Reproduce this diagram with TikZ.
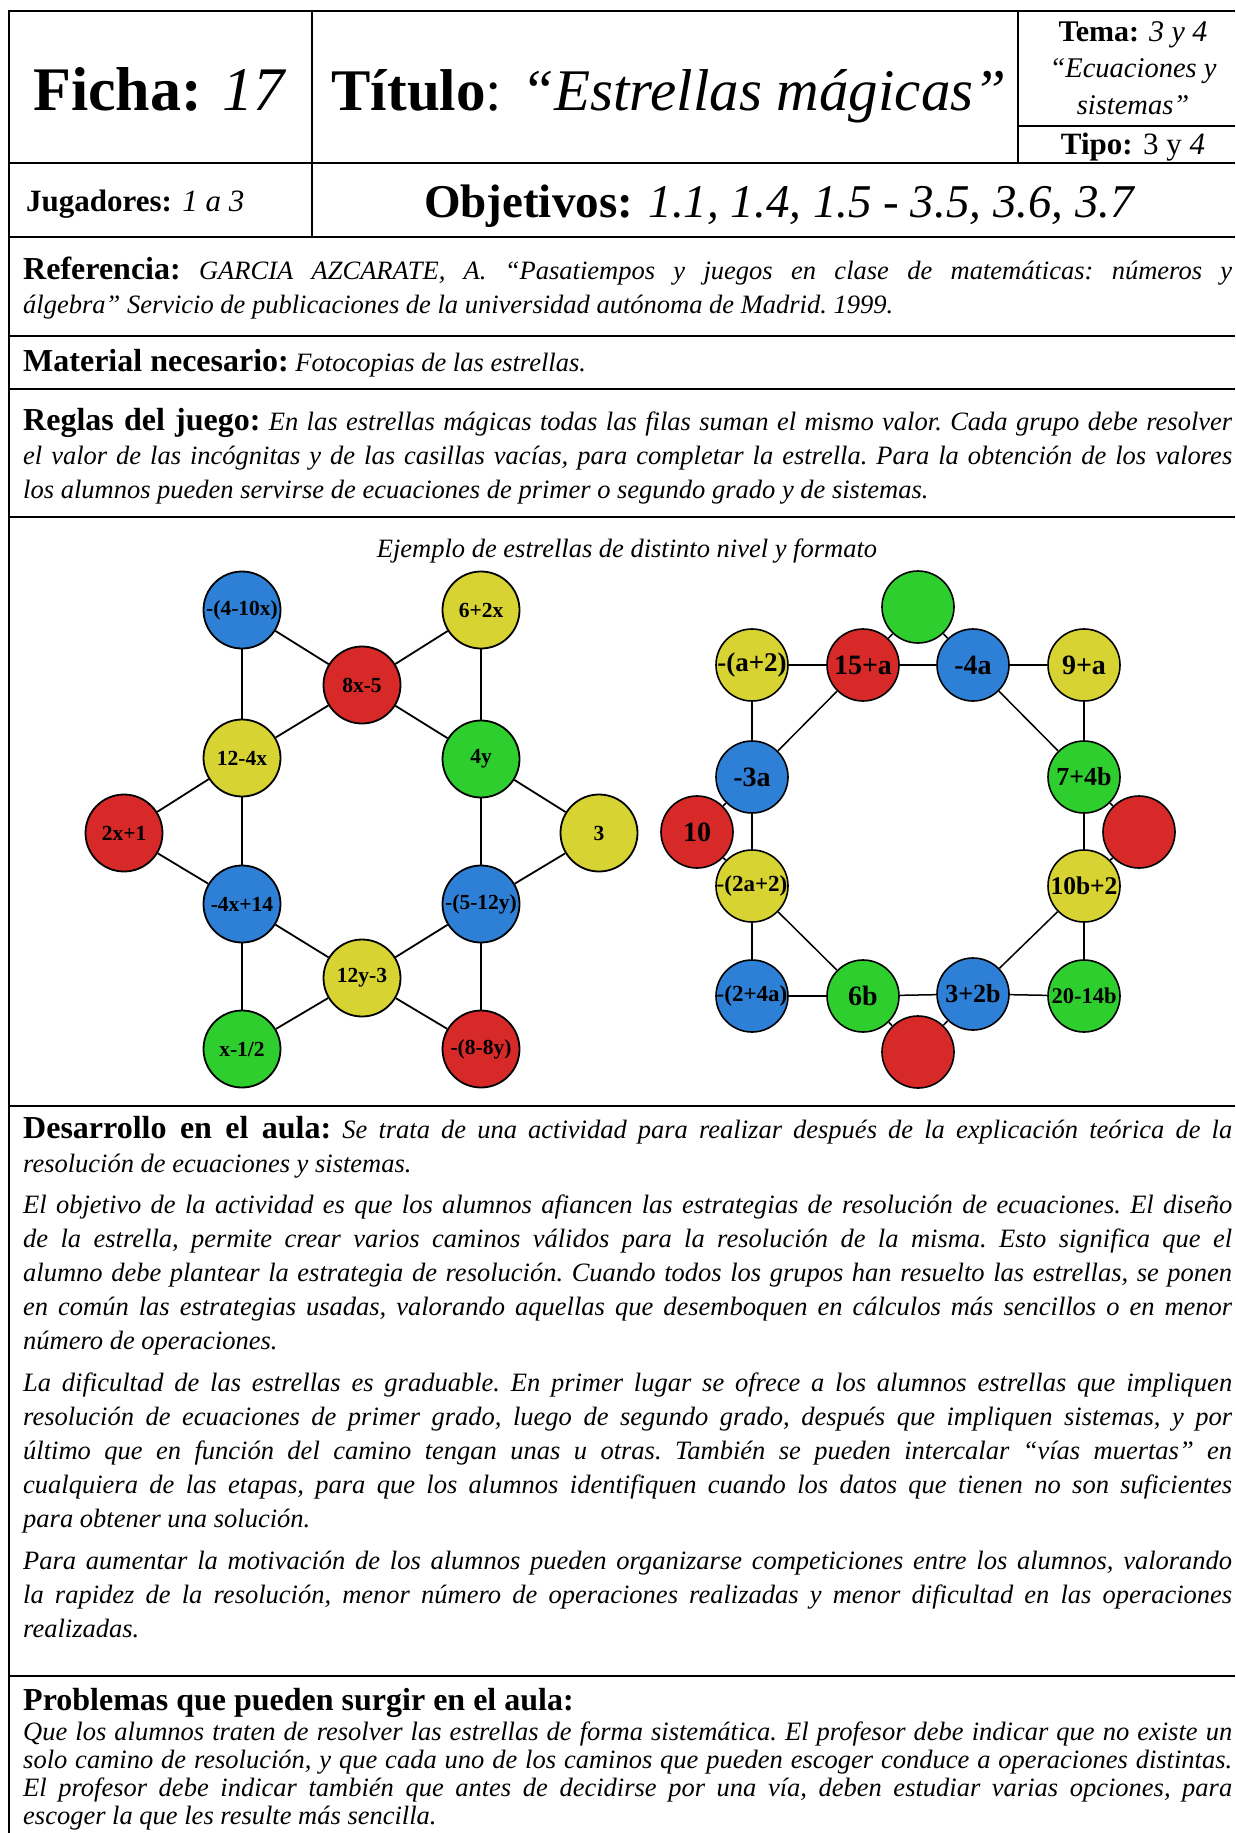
\documentclass[tikz,border=0pt]{standalone}
\usepackage{fontspec}
\setmainfont{Liberation Serif}
\definecolor{cB}{RGB}{46,128,214}
\definecolor{cR}{RGB}{216,41,41}
\definecolor{cY}{RGB}{214,211,50}
\definecolor{cG}{RGB}{46,206,46}
\newlength\TW \setlength\TW{1209pt}
\newcommand\lab[1]{{\upshape\bfseries\fontsize{32}{34}\selectfont #1}}
\newcommand\JL[3]{\node[txt] (#1) at (23,#2) {\frenchspacing\makebox[\TW][s]{#3}};}
\newcommand\LL[3]{\node[txt] (#1) at (23,#2) {\frenchspacing #3};}
\newcommand\zl[1]{\makebox[0pt]{#1}}
\begin{document}
\begin{tikzpicture}[x=1pt,y=-1pt,
  hrule/.style={line width=2.2pt},
  vrule/.style={line width=1.8pt},
  txt/.style={anchor=base west, inner sep=0pt, font=\fontsize{26.5}{30}\selectfont\itshape},
  cl/.style={circle, draw=black, line width=1.8pt, minimum size=77pt, inner sep=0pt, font=\bfseries\fontsize{21.5}{22}\selectfont},
  cr/.style={circle, draw=black, line width=1.6pt, minimum size=72pt, inner sep=0pt, font=\bfseries\fontsize{26}{26}\selectfont},
  fB/.style={fill=cB}, fR/.style={fill=cR}, fY/.style={fill=cY}, fG/.style={fill=cG},
  ledge/.style={line width=1.8pt},
  redge/.style={line width=1.5pt}]
\useasboundingbox (0,0) rectangle (1235,1833);
\fill[white] (0,0) rectangle (1235,1833);
% frame
\draw[hrule] (9,11) -- (1235,11);
\draw[hrule] (9,10) -- (9,1833);
\draw[hrule] (9,163) -- (1235,163);
\draw[hrule] (9,237) -- (1235,237);
\draw[hrule] (9,336) -- (1235,336);
\draw[hrule] (9,389) -- (1235,389);
\draw[hrule] (9,517) -- (1235,517);
\draw[hrule] (9,1106) -- (1235,1106);
\draw[hrule] (9,1676) -- (1235,1676);
\draw[vrule] (312,11) -- (312,237);
\draw[vrule] (1018,11) -- (1018,163);
\draw[vrule] (1018,126) -- (1235,126);
% header
\node[anchor=base, inner sep=0pt] (ficha) at (160,111) {\fontsize{62}{62}\selectfont\textbf{Ficha:} \textit{17}};
\node[anchor=base, inner sep=0pt] (titulo) at (669,111) {\fontsize{59}{59}\selectfont\textbf{Título}: \textit{“Estrellas mágicas”}};
\node[anchor=base, inner sep=0pt] (tema) at (1133,42) {\fontsize{30}{30}\selectfont\textbf{Tema:} \textit{3 y 4}};
\node[anchor=base, inner sep=0pt] (ecu) at (1133,78) {\fontsize{28.5}{28}\selectfont\itshape “Ecuaciones y};
\node[anchor=base, inner sep=0pt] (sis) at (1133,115) {\fontsize{28.5}{28}\selectfont\itshape sistemas”};
\node[anchor=base, inner sep=0pt] (tipo) at (1133,154) {\fontsize{31}{31}\selectfont\textbf{Tipo:} 3 y \textit{4}};
\node[anchor=base west, inner sep=0pt] (jug) at (26,211) {\fontsize{31}{31}\selectfont\textbf{Jugadores:} \textit{1 a 3}};
\node[anchor=base, inner sep=0pt] (obj) at (780,217) {\fontsize{47}{47}\selectfont\textbf{Objetivos:} \textit{1.1, 1.4, 1.5 - 3.5, 3.6, 3.7}};
% referencia
\JL{ref1}{279}{\lab{Referencia:} GARCIA AZCARATE, A. “Pasatiempos y juegos en clase de matemáticas: números y}
\LL{ref2}{313}{álgebra” Servicio de publicaciones de la universidad autónoma de Madrid. 1999.}
\LL{mat}{371}{\lab{Material necesario:} Fotocopias de las estrellas.}
\JL{reg1}{430}{\lab{Reglas del juego:} En las estrellas mágicas todas las filas suman el mismo valor. Cada grupo debe resolver}
\JL{reg2}{464}{el valor de las incógnitas y de las casillas vacías, para completar la estrella. Para la obtención de los valores}
\LL{reg3}{498}{los alumnos pueden servirse de ecuaciones de primer o segundo grado y de sistemas.}
% figure
\node[anchor=base, inner sep=0pt, font=\fontsize{26.5}{30}\selectfont\itshape] (cap) at (627,557) {Ejemplo de estrellas de distinto nivel y formato};
% left star
\node[cl,fB] (A) at (242,610) {\zl{-(4-10x)}};
\node[cl,fY] (B) at (481,610) {\zl{6+2x}};
\node[cl,fR] (C) at (362,685) {\zl{8x-5}};
\node[cl,fY] (D) at (242,758) {\zl{12-4x}};
\node[cl,fG] (E) at (481,759) {\zl{4y}};
\node[cl,fR] (F) at (124,833) {\zl{2x+1}};
\node[cl,fY] (G) at (599,833) {\zl{3}};
\node[cl,fB] (H) at (242,904) {\zl{-4x+14}};
\node[cl,fB] (I) at (481,904) {\zl{-(5-12y)}};
\node[cl,fY] (J) at (362,978) {\zl{12y-3}};
\node[cl,fG] (K) at (242,1049) {\zl{x-1/2}};
\node[cl,fR] (L) at (481,1049) {\zl{-(8-8y)}};
\foreach \a/\b in {A/C,C/B,A/D,B/E,C/D,C/E,D/F,F/H,D/H,E/G,E/I,G/I,H/J,I/J,H/K,I/L,J/K,J/L}
  \draw[ledge] (\a) -- (\b);
% right star
\node[cr,fG] (T) at (918,607) {};
\node[cr,fY,font=\bfseries\fontsize{27}{27}\selectfont] (R1) at (752,665) {\zl{-(a+2)}};
\node[cr,fR,font=\bfseries\fontsize{28}{28}\selectfont] (R2) at (863,665) {\zl{15+a}};
\node[cr,fB,font=\bfseries\fontsize{28}{28}\selectfont] (R3) at (973,665) {\zl{-4a}};
\node[cr,fY,font=\bfseries\fontsize{28}{28}\selectfont] (R4) at (1084,665) {\zl{9+a}};
\node[cr,fB,font=\bfseries\fontsize{28}{28}\selectfont] (R5) at (752,777) {\zl{-3a}};
\node[cr,fG,font=\bfseries\fontsize{26}{26}\selectfont] (R6) at (1084,777) {\zl{7+4b}};
\node[cr,fR,font=\bfseries\fontsize{28}{28}\selectfont] (R7) at (697,832) {\zl{10}};
\node[cr,fR] (R8) at (1139,832) {};
\node[cr,fY,font=\bfseries\fontsize{23}{23}\selectfont] (R9) at (752,886) {\zl{-(2a+2)}};
\node[cr,fY,font=\bfseries\fontsize{25.5}{26}\selectfont] (R10) at (1084,886) {\zl{10b+2}};
\node[cr,fB,font=\bfseries\fontsize{23}{23}\selectfont] (R11) at (752,996) {\zl{-(2+4a)}};
\node[cr,fG,font=\bfseries\fontsize{28}{28}\selectfont] (R12) at (863,996) {\zl{6b}};
\node[cr,fB,font=\bfseries\fontsize{26}{26}\selectfont] (R13) at (973,994) {\zl{3+2b}};
\node[cr,fG,font=\bfseries\fontsize{22.5}{23}\selectfont] (R14) at (1084,996) {\zl{20-14b}};
\node[cr,fR] (R15) at (918,1052) {};
\foreach \a/\b in {R1/R2,R2/R3,R3/R4,R1/R5,R2/R5,R3/R6,R4/R6,R5/R9,R6/R10,R9/R11,R9/R12,R10/R13,R10/R14,R11/R12,R12/R13,R13/R14,T/R2,T/R3,R7/R5,R7/R9,R8/R6,R8/R10,R15/R12,R15/R13}
  \draw[redge] (\a) -- (\b);
% desarrollo
\JL{d1}{1138}{\lab{Desarrollo en el aula:} Se trata de una actividad para realizar después de la explicación teórica de la}
\LL{d2}{1172}{resolución de ecuaciones y sistemas.}
\JL{d3}{1213}{El objetivo de la actividad es que los alumnos afiancen las estrategias de resolución de ecuaciones. El diseño}
\JL{d4}{1247}{de la estrella, permite crear varios caminos válidos para la resolución de la misma. Esto significa que el}
\JL{d5}{1281}{alumno debe plantear la estrategia de resolución. Cuando todos los grupos han resuelto las estrellas, se ponen}
\JL{d6}{1315}{en común las estrategias usadas, valorando aquellas que desemboquen en cálculos más sencillos o en menor}
\LL{d7}{1349}{número de operaciones.}
\JL{d8}{1391}{La dificultad de las estrellas es graduable. En primer lugar se ofrece a los alumnos estrellas que impliquen}
\JL{d9}{1425}{resolución de ecuaciones de primer grado, luego de segundo grado, después que impliquen sistemas, y por}
\JL{d10}{1459}{último que en función del camino tengan unas u otras. También se pueden intercalar “vías muertas” en}
\JL{d11}{1493}{cualquiera de las etapas, para que los alumnos identifiquen cuando los datos que tienen no son suficientes}
\LL{d12}{1527}{para obtener una solución.}
\JL{d13}{1569}{Para aumentar la motivación de los alumnos pueden organizarse competiciones entre los alumnos, valorando}
\JL{d14}{1603}{la rapidez de la resolución, menor número de operaciones realizadas y menor dificultad en las operaciones}
\LL{d15}{1637}{realizadas.}
% problemas
\LL{p0}{1710}{\lab{Problemas que pueden surgir en el aula:}}
\JL{p1}{1740}{Que los alumnos traten de resolver las estrellas de forma sistemática. El profesor debe indicar que no existe un}
\JL{p2}{1768}{solo camino de resolución, y que cada uno de los caminos que pueden escoger conduce a operaciones distintas.}
\JL{p3}{1796}{El profesor debe indicar también que antes de decidirse por una vía, deben estudiar varias opciones, para}
\LL{p4}{1824}{escoger la que les resulte más sencilla.}
\end{tikzpicture}
\end{document}
